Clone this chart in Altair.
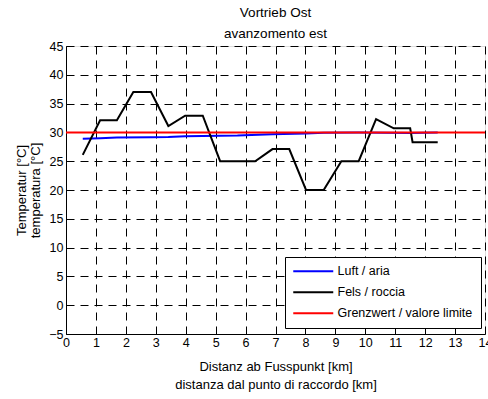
import altair as alt
import pandas as pd

# Fels / roccia (rock temperature)
fels_km = [0.56, 1.14, 1.70, 2.25, 2.84, 3.42, 3.98, 4.57, 5.15, 6.32, 6.90,
           7.46, 8.02, 8.61, 9.20, 9.78, 10.36, 10.95, 11.50, 11.58, 12.42]
fels_t = [26.1, 32.1, 32.1, 37.0, 37.0, 31.1, 32.9, 32.9, 25.0, 25.0, 27.1,
          27.1, 20.0, 20.0, 25.0, 25.0, 32.3, 30.7, 30.7, 28.3, 28.3]

# Luft / aria (air temperature)
luft_km = [0.56, 1.14, 1.70, 2.84, 3.42, 3.98, 5.15, 5.73, 6.90, 8.02, 8.61,
           9.78, 11.50, 12.42]
luft_t = [28.9, 29.0, 29.1, 29.15, 29.2, 29.35, 29.4, 29.45, 29.7, 29.8, 29.95,
          30.0, 29.9, 30.0]

# Grenzwert / valore limite
grenz_km = [0, 14]
grenz_t = [30, 30]

series = ["Luft / aria", "Fels / roccia", "Grenzwert / valore limite"]
colors = ["#0000ff", "#000000", "#ff0000"]

x_ticks = list(range(0, 15))
y_ticks = list(range(-5, 50, 5))

FONT = "Liberation Sans"

df_luft = pd.DataFrame({"km": luft_km, "t": luft_t, "series": series[0]})
df_fels = pd.DataFrame({"km": fels_km, "t": fels_t, "series": series[1]})
df_grenz = pd.DataFrame({"km": grenz_km, "t": grenz_t, "series": series[2]})

common_axis = dict(
    grid=True,
    gridColor="black",
    gridOpacity=1,
    gridWidth=1,
    gridDash=[8, 6],
    tickSize=0,
    labelFlush=False,
    labelOverlap=False,
    domainColor="black",
    domainWidth=1,
    labelFont=FONT,
    labelFontSize=12.5,
    labelColor="black",
    titleFont=FONT,
    titleFontSize=13,
    titleFontWeight="normal",
    titleColor="black",
)

x_enc = alt.X(
    "km:Q",
    scale=alt.Scale(domain=[0, 14], nice=False),
    axis=alt.Axis(
        values=x_ticks,
        title=["Distanz ab Fusspunkt [km]", "distanza dal punto di raccordo [km]"],
        titleLineHeight=18,
        titlePadding=12,
        labelPadding=2,
        **common_axis,
    ),
)
y_enc = alt.Y(
    "t:Q",
    scale=alt.Scale(domain=[-5, 45], nice=False),
    axis=alt.Axis(
        values=y_ticks,
        title=["Temperatur [°C]", "temperatura [°C]"],
        titleLineHeight=14,
        titlePadding=6,
        labelPadding=3,
        **common_axis,
    ),
)
color_enc = alt.Color(
    "series:N",
    scale=alt.Scale(domain=series, range=colors),
    legend=alt.Legend(
        title=None,
        orient="none",
        legendX=219,
        legendY=211,
        strokeColor="black",
        fillColor="white",
        padding=8,
        symbolType="M-4,0H4",
        symbolSize=100,
        symbolStrokeWidth=2,
        symbolOffset=14,
        labelOffset=18,
        rowPadding=8,
        labelFontSize=12.5,
        labelFont=FONT,
        labelColor="black",
    ),
)


def layer(df):
    return alt.Chart(df).mark_line(strokeWidth=2).encode(
        x=x_enc, y=y_enc, color=color_enc, order="km:Q"
    )


chart = (
    alt.layer(layer(df_luft), layer(df_fels), layer(df_grenz))
    .properties(
        width=419,
        height=288,
        title=alt.TitleParams(
            ["Vortrieb Ost", "avanzomento est"],
            fontSize=13.5,
            fontWeight="normal",
            font=FONT,
            lineHeight=21,
            anchor="middle",
            offset=0,
            color="black",
        ),
        autosize=alt.AutoSizeParams(type="none"),
        padding={"left": 66, "top": 46, "right": 3, "bottom": 65},
    )
    .configure_view(stroke="transparent")
    .configure(background="white")
)

chart.save("out.html", embed_options={"renderer": "svg", "actions": False})
